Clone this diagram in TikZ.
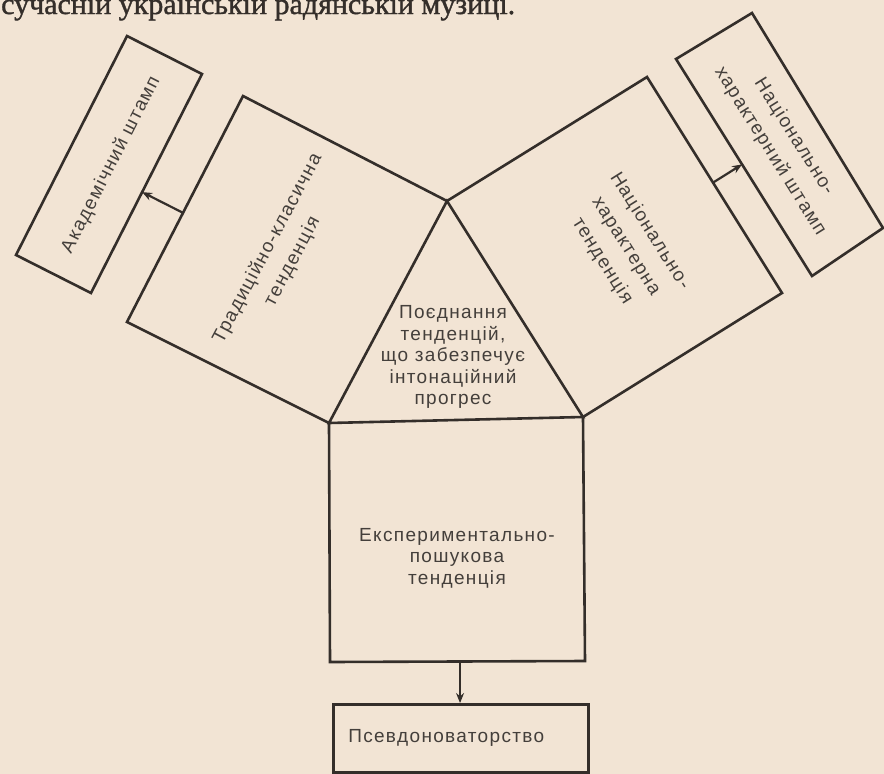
\documentclass[tikz,border=0pt]{standalone}
\usepackage{fontspec}
\newfontfamily\lab{Liberation Sans}[LetterSpace=7.0]
\newfontfamily\hdr{Liberation Serif}[FakeBold=1.2]
\usetikzlibrary{calc,arrows.meta}
\definecolor{paper}{RGB}{242,228,212}
\definecolor{ink}{RGB}{52,46,42}
\definecolor{txt}{RGB}{68,63,59}
\begin{document}
\begin{tikzpicture}[x=1pt,y=-1pt,
  edge/.style={draw=ink,line width=2.6pt,line join=miter},
  lbl/.style={font=\lab\fontsize{19}{21.5}\selectfont,text=txt,align=center,inner sep=0pt},
  rlbl/.style={font=\lab\fontsize{19}{28}\selectfont,text=txt,align=center,inner sep=0pt},
  conn/.style={draw=ink,line width=2.2pt,-{Stealth[length=10pt,width=8pt]}}]
\fill[paper] (0,0) rectangle (884,774);
\useasboundingbox (0,0) rectangle (884,774);
% header line of the page (cut at the top edge, as in the scan)
\node[anchor=base west,font=\hdr\fontsize{30}{32}\selectfont,text=ink,inner sep=0pt] (hdr) at (1,14) {сучасній українській радянській музиці.};
% triangle
\coordinate (A) at (447,201);
\coordinate (BL) at (329,423);
\coordinate (BR) at (583,417);
% left square
\coordinate (LT) at (243,96);
\coordinate (LL) at (127,322);
% right square
\coordinate (RT) at (647,77);
\coordinate (RR) at (782,293);
% bottom square
\coordinate (EBL) at (330,662);
\coordinate (EBR) at (585,661);
% academic stamp box
\coordinate (AT) at (127,36);
\coordinate (AR) at (202,74);
\coordinate (ABR) at (91,293);
\coordinate (ABL) at (16,255);
% national stamp box
\coordinate (SL) at (676,59);
\coordinate (ST) at (752,13);
\coordinate (SR) at (883,228);
\coordinate (SB) at (812,276);

\draw[edge] (A) -- (BL) -- (BR) -- cycle;
\draw[edge] (A) -- (LT) -- (LL) -- (BL);
\draw[edge] (A) -- (RT) -- (RR) -- (BR);
\draw[edge] (BL) -- (EBL) -- (EBR) -- (BR);
\draw[edge] (AT) -- (AR) -- (ABR) -- (ABL) -- cycle;
\draw[edge] (SL) -- (ST) -- (SR) -- (SB) -- cycle;

\node[lbl] (tri) at (453,357) {Поєднання\\тенденцій,\\що забезпечує\\інтонаційний\\прогрес};
\node[rlbl,rotate=62] (trad) at (280,255) {Традиційно-класична\\тенденція};
\node[rlbl,rotate=-57.8] (nat) at (626,246) {Національно-\\характерна\\тенденція};
\node[lbl,text depth=0pt] (exp) at (457,556) {Експериментально-\\пошукова\\тенденція};
\node[rlbl,rotate=63] (acad) at (111,165) {Академічний штамп};
\node[rlbl,rotate=-58] (nstamp) at (782,144) {Національно-\\характерний штамп};
\node[draw=ink,line width=2.6pt,minimum width=255pt,minimum height=68pt,anchor=north west,
      text width=225pt,align=left,inner xsep=15pt,font=\lab\fontsize{19}{22}\selectfont,text=txt] (pseudo) at (332,703) {Псевдоноваторство};

% connectors
\coordinate (lt) at ($(LT)!0.517!(LL)$);
\coordinate (lh) at ($(AR)!(lt)!(ABR)$);
\draw[conn] (lt) -- (lh);
\coordinate (rt) at ($(RT)!0.489!(RR)$);
\coordinate (rh) at ($(SL)!(rt)!(SB)$);
\draw[conn] (rt) -- (rh);
\coordinate (et) at ($(EBL)!0.51!(EBR)$);
\draw[conn] (et) -- (et |- pseudo.north);
\end{tikzpicture}
\end{document}
